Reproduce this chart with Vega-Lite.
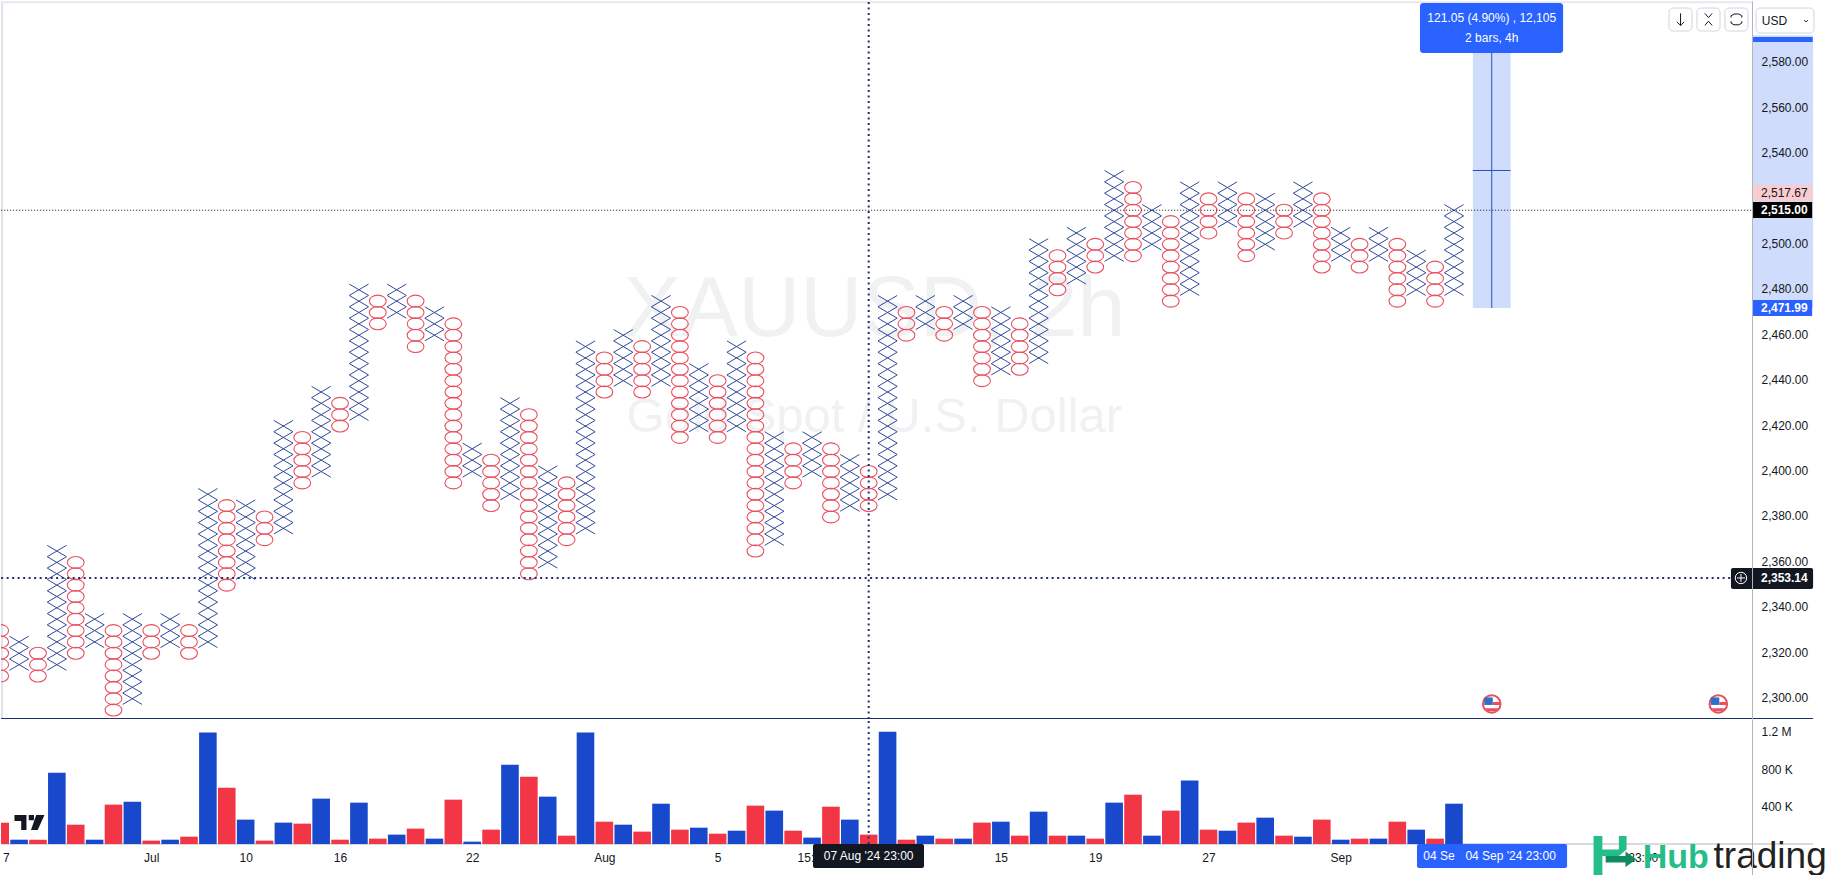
{"$schema":"https://vega.github.io/schema/vega-lite/v6.json","padding":0,"background":"white","bounds":"flush","config":{"font":"Liberation Sans","view":{"stroke":null}},"spacing":0,
"datasets":{
"xs":[{"c":1,"p":2315},{"c":1,"p":2320},{"c":1,"p":2325},
{"c":3,"p":2315},{"c":3,"p":2320},{"c":3,"p":2325},{"c":3,"p":2330},{"c":3,"p":2335},{"c":3,"p":2340},{"c":3,"p":2345},{"c":3,"p":2350},{"c":3,"p":2355},{"c":3,"p":2360},{"c":3,"p":2365},
{"c":5,"p":2325},{"c":5,"p":2330},{"c":5,"p":2335},
{"c":7,"p":2300},{"c":7,"p":2305},{"c":7,"p":2310},{"c":7,"p":2315},{"c":7,"p":2320},{"c":7,"p":2325},{"c":7,"p":2330},{"c":7,"p":2335},
{"c":9,"p":2325},{"c":9,"p":2330},{"c":9,"p":2335},
{"c":11,"p":2325},{"c":11,"p":2330},{"c":11,"p":2335},{"c":11,"p":2340},{"c":11,"p":2345},{"c":11,"p":2350},{"c":11,"p":2355},{"c":11,"p":2360},{"c":11,"p":2365},{"c":11,"p":2370},{"c":11,"p":2375},{"c":11,"p":2380},{"c":11,"p":2385},{"c":11,"p":2390},
{"c":13,"p":2355},{"c":13,"p":2360},{"c":13,"p":2365},{"c":13,"p":2370},{"c":13,"p":2375},{"c":13,"p":2380},{"c":13,"p":2385},
{"c":15,"p":2375},{"c":15,"p":2380},{"c":15,"p":2385},{"c":15,"p":2390},{"c":15,"p":2395},{"c":15,"p":2400},{"c":15,"p":2405},{"c":15,"p":2410},{"c":15,"p":2415},{"c":15,"p":2420},
{"c":17,"p":2400},{"c":17,"p":2405},{"c":17,"p":2410},{"c":17,"p":2415},{"c":17,"p":2420},{"c":17,"p":2425},{"c":17,"p":2430},{"c":17,"p":2435},
{"c":19,"p":2425},{"c":19,"p":2430},{"c":19,"p":2435},{"c":19,"p":2440},{"c":19,"p":2445},{"c":19,"p":2450},{"c":19,"p":2455},{"c":19,"p":2460},{"c":19,"p":2465},{"c":19,"p":2470},{"c":19,"p":2475},{"c":19,"p":2480},
{"c":21,"p":2470},{"c":21,"p":2475},{"c":21,"p":2480},
{"c":23,"p":2460},{"c":23,"p":2465},{"c":23,"p":2470},
{"c":25,"p":2400},{"c":25,"p":2405},{"c":25,"p":2410},
{"c":27,"p":2390},{"c":27,"p":2395},{"c":27,"p":2400},{"c":27,"p":2405},{"c":27,"p":2410},{"c":27,"p":2415},{"c":27,"p":2420},{"c":27,"p":2425},{"c":27,"p":2430},
{"c":29,"p":2360},{"c":29,"p":2365},{"c":29,"p":2370},{"c":29,"p":2375},{"c":29,"p":2380},{"c":29,"p":2385},{"c":29,"p":2390},{"c":29,"p":2395},{"c":29,"p":2400},
{"c":31,"p":2375},{"c":31,"p":2380},{"c":31,"p":2385},{"c":31,"p":2390},{"c":31,"p":2395},{"c":31,"p":2400},{"c":31,"p":2405},{"c":31,"p":2410},{"c":31,"p":2415},{"c":31,"p":2420},{"c":31,"p":2425},{"c":31,"p":2430},{"c":31,"p":2435},{"c":31,"p":2440},{"c":31,"p":2445},{"c":31,"p":2450},{"c":31,"p":2455},
{"c":33,"p":2440},{"c":33,"p":2445},{"c":33,"p":2450},{"c":33,"p":2455},{"c":33,"p":2460},
{"c":35,"p":2440},{"c":35,"p":2445},{"c":35,"p":2450},{"c":35,"p":2455},{"c":35,"p":2460},{"c":35,"p":2465},{"c":35,"p":2470},{"c":35,"p":2475},
{"c":37,"p":2420},{"c":37,"p":2425},{"c":37,"p":2430},{"c":37,"p":2435},{"c":37,"p":2440},{"c":37,"p":2445},
{"c":39,"p":2420},{"c":39,"p":2425},{"c":39,"p":2430},{"c":39,"p":2435},{"c":39,"p":2440},{"c":39,"p":2445},{"c":39,"p":2450},{"c":39,"p":2455},
{"c":41,"p":2370},{"c":41,"p":2375},{"c":41,"p":2380},{"c":41,"p":2385},{"c":41,"p":2390},{"c":41,"p":2395},{"c":41,"p":2400},{"c":41,"p":2405},{"c":41,"p":2410},{"c":41,"p":2415},
{"c":43,"p":2400},{"c":43,"p":2405},{"c":43,"p":2410},{"c":43,"p":2415},
{"c":45,"p":2385},{"c":45,"p":2390},{"c":45,"p":2395},{"c":45,"p":2400},{"c":45,"p":2405},
{"c":47,"p":2390},{"c":47,"p":2395},{"c":47,"p":2400},{"c":47,"p":2405},{"c":47,"p":2410},{"c":47,"p":2415},{"c":47,"p":2420},{"c":47,"p":2425},{"c":47,"p":2430},{"c":47,"p":2435},{"c":47,"p":2440},{"c":47,"p":2445},{"c":47,"p":2450},{"c":47,"p":2455},{"c":47,"p":2460},{"c":47,"p":2465},{"c":47,"p":2470},{"c":47,"p":2475},
{"c":49,"p":2465},{"c":49,"p":2470},{"c":49,"p":2475},
{"c":51,"p":2465},{"c":51,"p":2470},{"c":51,"p":2475},
{"c":53,"p":2445},{"c":53,"p":2450},{"c":53,"p":2455},{"c":53,"p":2460},{"c":53,"p":2465},{"c":53,"p":2470},
{"c":55,"p":2450},{"c":55,"p":2455},{"c":55,"p":2460},{"c":55,"p":2465},{"c":55,"p":2470},{"c":55,"p":2475},{"c":55,"p":2480},{"c":55,"p":2485},{"c":55,"p":2490},{"c":55,"p":2495},{"c":55,"p":2500},
{"c":57,"p":2485},{"c":57,"p":2490},{"c":57,"p":2495},{"c":57,"p":2500},{"c":57,"p":2505},
{"c":59,"p":2495},{"c":59,"p":2500},{"c":59,"p":2505},{"c":59,"p":2510},{"c":59,"p":2515},{"c":59,"p":2520},{"c":59,"p":2525},{"c":59,"p":2530},
{"c":61,"p":2500},{"c":61,"p":2505},{"c":61,"p":2510},{"c":61,"p":2515},
{"c":63,"p":2480},{"c":63,"p":2485},{"c":63,"p":2490},{"c":63,"p":2495},{"c":63,"p":2500},{"c":63,"p":2505},{"c":63,"p":2510},{"c":63,"p":2515},{"c":63,"p":2520},{"c":63,"p":2525},
{"c":65,"p":2510},{"c":65,"p":2515},{"c":65,"p":2520},{"c":65,"p":2525},
{"c":67,"p":2500},{"c":67,"p":2505},{"c":67,"p":2510},{"c":67,"p":2515},{"c":67,"p":2520},
{"c":69,"p":2510},{"c":69,"p":2515},{"c":69,"p":2520},{"c":69,"p":2525},
{"c":71,"p":2495},{"c":71,"p":2500},{"c":71,"p":2505},
{"c":73,"p":2495},{"c":73,"p":2500},{"c":73,"p":2505},
{"c":75,"p":2480},{"c":75,"p":2485},{"c":75,"p":2490},{"c":75,"p":2495},
{"c":77,"p":2480},{"c":77,"p":2485},{"c":77,"p":2490},{"c":77,"p":2495},{"c":77,"p":2500},{"c":77,"p":2505},{"c":77,"p":2510},{"c":77,"p":2515}],
"os":[{"c":0,"p":2310},{"c":0,"p":2315},{"c":0,"p":2320},{"c":0,"p":2325},{"c":0,"p":2330},
{"c":2,"p":2310},{"c":2,"p":2315},{"c":2,"p":2320},
{"c":4,"p":2320},{"c":4,"p":2325},{"c":4,"p":2330},{"c":4,"p":2335},{"c":4,"p":2340},{"c":4,"p":2345},{"c":4,"p":2350},{"c":4,"p":2355},{"c":4,"p":2360},
{"c":6,"p":2295},{"c":6,"p":2300},{"c":6,"p":2305},{"c":6,"p":2310},{"c":6,"p":2315},{"c":6,"p":2320},{"c":6,"p":2325},{"c":6,"p":2330},
{"c":8,"p":2320},{"c":8,"p":2325},{"c":8,"p":2330},
{"c":10,"p":2320},{"c":10,"p":2325},{"c":10,"p":2330},
{"c":12,"p":2350},{"c":12,"p":2355},{"c":12,"p":2360},{"c":12,"p":2365},{"c":12,"p":2370},{"c":12,"p":2375},{"c":12,"p":2380},{"c":12,"p":2385},
{"c":14,"p":2370},{"c":14,"p":2375},{"c":14,"p":2380},
{"c":16,"p":2395},{"c":16,"p":2400},{"c":16,"p":2405},{"c":16,"p":2410},{"c":16,"p":2415},
{"c":18,"p":2420},{"c":18,"p":2425},{"c":18,"p":2430},
{"c":20,"p":2465},{"c":20,"p":2470},{"c":20,"p":2475},
{"c":22,"p":2455},{"c":22,"p":2460},{"c":22,"p":2465},{"c":22,"p":2470},{"c":22,"p":2475},
{"c":24,"p":2395},{"c":24,"p":2400},{"c":24,"p":2405},{"c":24,"p":2410},{"c":24,"p":2415},{"c":24,"p":2420},{"c":24,"p":2425},{"c":24,"p":2430},{"c":24,"p":2435},{"c":24,"p":2440},{"c":24,"p":2445},{"c":24,"p":2450},{"c":24,"p":2455},{"c":24,"p":2460},{"c":24,"p":2465},
{"c":26,"p":2385},{"c":26,"p":2390},{"c":26,"p":2395},{"c":26,"p":2400},{"c":26,"p":2405},
{"c":28,"p":2355},{"c":28,"p":2360},{"c":28,"p":2365},{"c":28,"p":2370},{"c":28,"p":2375},{"c":28,"p":2380},{"c":28,"p":2385},{"c":28,"p":2390},{"c":28,"p":2395},{"c":28,"p":2400},{"c":28,"p":2405},{"c":28,"p":2410},{"c":28,"p":2415},{"c":28,"p":2420},{"c":28,"p":2425},
{"c":30,"p":2370},{"c":30,"p":2375},{"c":30,"p":2380},{"c":30,"p":2385},{"c":30,"p":2390},{"c":30,"p":2395},
{"c":32,"p":2435},{"c":32,"p":2440},{"c":32,"p":2445},{"c":32,"p":2450},
{"c":34,"p":2435},{"c":34,"p":2440},{"c":34,"p":2445},{"c":34,"p":2450},{"c":34,"p":2455},
{"c":36,"p":2415},{"c":36,"p":2420},{"c":36,"p":2425},{"c":36,"p":2430},{"c":36,"p":2435},{"c":36,"p":2440},{"c":36,"p":2445},{"c":36,"p":2450},{"c":36,"p":2455},{"c":36,"p":2460},{"c":36,"p":2465},{"c":36,"p":2470},
{"c":38,"p":2415},{"c":38,"p":2420},{"c":38,"p":2425},{"c":38,"p":2430},{"c":38,"p":2435},{"c":38,"p":2440},
{"c":40,"p":2365},{"c":40,"p":2370},{"c":40,"p":2375},{"c":40,"p":2380},{"c":40,"p":2385},{"c":40,"p":2390},{"c":40,"p":2395},{"c":40,"p":2400},{"c":40,"p":2405},{"c":40,"p":2410},{"c":40,"p":2415},{"c":40,"p":2420},{"c":40,"p":2425},{"c":40,"p":2430},{"c":40,"p":2435},{"c":40,"p":2440},{"c":40,"p":2445},{"c":40,"p":2450},
{"c":42,"p":2395},{"c":42,"p":2400},{"c":42,"p":2405},{"c":42,"p":2410},
{"c":44,"p":2380},{"c":44,"p":2385},{"c":44,"p":2390},{"c":44,"p":2395},{"c":44,"p":2400},{"c":44,"p":2405},{"c":44,"p":2410},
{"c":46,"p":2385},{"c":46,"p":2390},{"c":46,"p":2395},{"c":46,"p":2400},
{"c":48,"p":2460},{"c":48,"p":2465},{"c":48,"p":2470},
{"c":50,"p":2460},{"c":50,"p":2465},{"c":50,"p":2470},
{"c":52,"p":2440},{"c":52,"p":2445},{"c":52,"p":2450},{"c":52,"p":2455},{"c":52,"p":2460},{"c":52,"p":2465},{"c":52,"p":2470},
{"c":54,"p":2445},{"c":54,"p":2450},{"c":54,"p":2455},{"c":54,"p":2460},{"c":54,"p":2465},
{"c":56,"p":2480},{"c":56,"p":2485},{"c":56,"p":2490},{"c":56,"p":2495},
{"c":58,"p":2490},{"c":58,"p":2495},{"c":58,"p":2500},
{"c":60,"p":2495},{"c":60,"p":2500},{"c":60,"p":2505},{"c":60,"p":2510},{"c":60,"p":2515},{"c":60,"p":2520},{"c":60,"p":2525},
{"c":62,"p":2475},{"c":62,"p":2480},{"c":62,"p":2485},{"c":62,"p":2490},{"c":62,"p":2495},{"c":62,"p":2500},{"c":62,"p":2505},{"c":62,"p":2510},
{"c":64,"p":2505},{"c":64,"p":2510},{"c":64,"p":2515},{"c":64,"p":2520},
{"c":66,"p":2495},{"c":66,"p":2500},{"c":66,"p":2505},{"c":66,"p":2510},{"c":66,"p":2515},{"c":66,"p":2520},
{"c":68,"p":2505},{"c":68,"p":2510},{"c":68,"p":2515},
{"c":70,"p":2490},{"c":70,"p":2495},{"c":70,"p":2500},{"c":70,"p":2505},{"c":70,"p":2510},{"c":70,"p":2515},{"c":70,"p":2520},
{"c":72,"p":2490},{"c":72,"p":2495},{"c":72,"p":2500},
{"c":74,"p":2475},{"c":74,"p":2480},{"c":74,"p":2485},{"c":74,"p":2490},{"c":74,"p":2495},{"c":74,"p":2500},
{"c":76,"p":2475},{"c":76,"p":2480},{"c":76,"p":2485},{"c":76,"p":2490}],
"vol":[{"c":0,"v":227000,"t":"O"},{"c":1,"v":46000,"t":"X"},{"c":2,"v":46000,"t":"O"},{"c":3,"v":761000,"t":"X"},{"c":4,"v":206000,"t":"O"},{"c":5,"v":46000,"t":"X"},{"c":6,"v":420000,"t":"O"},{"c":7,"v":452000,"t":"X"},{"c":8,"v":36000,"t":"O"},{"c":9,"v":46000,"t":"X"},{"c":10,"v":78000,"t":"O"},{"c":11,"v":1188000,"t":"X"},{"c":12,"v":601000,"t":"O"},{"c":13,"v":260000,"t":"X"},{"c":14,"v":36000,"t":"O"},{"c":15,"v":228000,"t":"X"},{"c":16,"v":217000,"t":"O"},{"c":17,"v":484000,"t":"X"},{"c":18,"v":46000,"t":"O"},{"c":19,"v":441000,"t":"X"},{"c":20,"v":57000,"t":"O"},{"c":21,"v":100000,"t":"X"},{"c":22,"v":164000,"t":"O"},{"c":23,"v":57000,"t":"X"},{"c":24,"v":473000,"t":"O"},{"c":25,"v":25000,"t":"X"},{"c":26,"v":153000,"t":"O"},{"c":27,"v":846000,"t":"X"},{"c":28,"v":718000,"t":"O"},{"c":29,"v":505000,"t":"X"},{"c":30,"v":89000,"t":"O"},{"c":31,"v":1188000,"t":"X"},{"c":32,"v":238000,"t":"O"},{"c":33,"v":206000,"t":"X"},{"c":34,"v":132000,"t":"O"},{"c":35,"v":430000,"t":"X"},{"c":36,"v":153000,"t":"O"},{"c":37,"v":174000,"t":"X"},{"c":38,"v":110000,"t":"O"},{"c":39,"v":142000,"t":"X"},{"c":40,"v":409000,"t":"O"},{"c":41,"v":356000,"t":"X"},{"c":42,"v":142000,"t":"O"},{"c":43,"v":68000,"t":"X"},{"c":44,"v":398000,"t":"O"},{"c":45,"v":260000,"t":"X"},{"c":46,"v":100000,"t":"O"},{"c":47,"v":1198000,"t":"X"},{"c":48,"v":46000,"t":"O"},{"c":49,"v":89000,"t":"X"},{"c":50,"v":57000,"t":"O"},{"c":51,"v":57000,"t":"X"},{"c":52,"v":228000,"t":"O"},{"c":53,"v":238000,"t":"X"},{"c":54,"v":89000,"t":"O"},{"c":55,"v":345000,"t":"X"},{"c":56,"v":89000,"t":"O"},{"c":57,"v":89000,"t":"X"},{"c":58,"v":57000,"t":"O"},{"c":59,"v":441000,"t":"X"},{"c":60,"v":526000,"t":"O"},{"c":61,"v":89000,"t":"X"},{"c":62,"v":356000,"t":"O"},{"c":63,"v":676000,"t":"X"},{"c":64,"v":153000,"t":"O"},{"c":65,"v":142000,"t":"X"},{"c":66,"v":228000,"t":"O"},{"c":67,"v":281000,"t":"X"},{"c":68,"v":89000,"t":"O"},{"c":69,"v":78000,"t":"X"},{"c":70,"v":260000,"t":"O"},{"c":71,"v":46000,"t":"X"},{"c":72,"v":57000,"t":"O"},{"c":73,"v":57000,"t":"X"},{"c":74,"v":238000,"t":"O"},{"c":75,"v":153000,"t":"X"},{"c":76,"v":57000,"t":"O"},{"c":77,"v":430000,"t":"X"}]
},
"vconcat":[
{"width":1827,"height":718,
"encoding":{
"x":{"field":"c","type":"quantitative","scale":{"domain":[0.0424,96.81],"nice":false,"zero":false},"axis":null},
"y":{"field":"p","type":"quantitative","scale":{"domain":[2291.07,2607.1],"nice":false,"zero":false},"axis":{"title":null,"orient":"right","offset":-76,"grid":false,"ticks":false,"labelPadding":9,"format":",.2f","values":[2300,2320,2340,2360,2380,2400,2420,2440,2460,2480,2500,2540,2560,2580],"labelFontSize":12,"labelColor":"#131722","labelOffset":-1,"domainColor":"#b2b5be","zindex":1}}},
"layer":[
{"data":{"values":[{"c":46.3,"p":2471,"s":"XAUUSD, 2h"}]},"mark":{"type":"text","fontSize":86,"color":"#f0f1f3","baseline":"middle","align":"center"},"encoding":{"text":{"field":"s"}}},
{"data":{"values":[{"c":46.3,"p":2424,"s":"Gold Spot / U.S. Dollar"}]},"mark":{"type":"text","fontSize":49,"color":"#f0f1f3","baseline":"middle","align":"center"},"encoding":{"text":{"field":"s"}}},
{"data":{"values":[{"c":78,"c2":80,"p":2593,"p2":2471.99},{"c":92.84,"c2":96.02,"p":2592,"p2":2471.99}]},"mark":{"type":"rect","color":"#cfdcfb"},"encoding":{"x2":{"field":"c2"},"y2":{"field":"p2"}}},
{"data":{"values":[{"c":0.1,"p":2291.3,"p2":2607}]},"mark":{"type":"rule","color":"#e0e3eb","strokeWidth":2},"encoding":{"y2":{"field":"p2"}}},
{"data":{"values":[{"c":0.05,"c2":92.78,"p":2606.5}]},"mark":{"type":"rule","color":"#e6e8ee","strokeWidth":2},"encoding":{"x2":{"field":"c2"}}},
{"data":{"name":"os"},"mark":{"type":"point","clip":true,"shape":"M-1,0C-1,-0.39,-0.55,-0.71,0,-0.71C0.55,-0.71,1,-0.39,1,0C1,0.39,0.55,0.71,0,0.71C-0.55,0.71,-1,0.39,-1,0Z","size":282,"color":"#e8505f","strokeWidth":1.1,"opacity":1,"filled":false}},
{"data":{"name":"xs"},"mark":{"type":"point","clip":true,"shape":"M-1,-0.59L1,0.59M-1,0.59L1,-0.59","size":369,"color":"#2f4a9a","strokeWidth":1,"opacity":1,"filled":false}},
{"data":{"values":[{"c":0.05,"c2":92.78,"p":2515}]},"mark":{"type":"rule","color":"#131722","strokeWidth":1,"strokeDash":[1,2]},"encoding":{"x2":{"field":"c2"}}},
{"data":{"values":[{"c":0.05,"c2":92.78,"p":2353.14}]},"mark":{"type":"rule","color":"#1e2f6b","strokeWidth":2,"strokeDash":[2,3.5]},"encoding":{"x2":{"field":"c2"}}},
{"data":{"values":[{"c":46,"p":2291.07,"p2":2607.1}]},"mark":{"type":"rule","color":"#1e2f6b","strokeWidth":2,"strokeDash":[2,3.5]},"encoding":{"y2":{"field":"p2"}}},
{"data":{"values":[{"c":0.05,"c2":96.02,"p":2291.3}]},"mark":{"type":"rule","color":"#1e2f6b","strokeWidth":1.2},"encoding":{"x2":{"field":"c2"}}},
{"data":{"values":[{"c":79,"p":2471.99,"p2":2593}]},"mark":{"type":"rule","color":"#2a50c0","strokeWidth":1},"encoding":{"y2":{"field":"p2"}}},
{"data":{"values":[{"c":78,"c2":80,"p":2532.5}]},"mark":{"type":"rule","color":"#2a50c0","strokeWidth":1},"encoding":{"x2":{"field":"c2"}}},
{"data":{"values":[{"c":75.2,"c2":82.78,"p":2606.2,"p2":2584.2}]},"mark":{"type":"rect","color":"#2962ff","cornerRadius":3},"encoding":{"x2":{"field":"c2"},"y2":{"field":"p2"}}},
{"data":{"values":[{"c":79,"p":2599.6,"s":"121.05 (4.90%) , 12,105"},{"c":79,"p":2590.8,"s":"2 bars, 4h"}]},"mark":{"type":"text","color":"white","fontSize":12,"align":"center","baseline":"middle"},"encoding":{"text":{"field":"s"}}},
{"data":{"values":[{"c":92.84,"c2":96,"p":2591.3,"p2":2589.1},{"c":92.84,"c2":95.97,"p":2475.5,"p2":2468.4}]},"mark":{"type":"rect","color":"#2962ff"},"encoding":{"x2":{"field":"c2"},"y2":{"field":"p2"}}},
{"data":{"values":[{"c":92.84,"c2":95.97,"p":2526.1,"p2":2519.06}]},"mark":{"type":"rect","color":"#f9cdd0"},"encoding":{"x2":{"field":"c2"},"y2":{"field":"p2"}}},
{"data":{"values":[{"c":92.84,"c2":95.97,"p":2518.6,"p2":2511.6}]},"mark":{"type":"rect","color":"#000000"},"encoding":{"x2":{"field":"c2"},"y2":{"field":"p2"}}},
{"data":{"values":[{"c":91.67,"c2":96.02,"p":2357.5,"p2":2348.3}]},"mark":{"type":"rect","color":"#131722","cornerRadius":2},"encoding":{"x2":{"field":"c2"},"y2":{"field":"p2"}}},
{"data":{"values":[{"c":93.26,"p":2522.6,"s":"2,517.67"}]},"mark":{"type":"text","color":"#131722","fontSize":12,"align":"left","baseline":"middle"},"encoding":{"text":{"field":"s"}}},
{"data":{"values":[{"c":93.26,"p":2515,"s":"2,515.00"},{"c":93.26,"p":2471.99,"s":"2,471.99"},{"c":93.26,"p":2353.14,"s":"2,353.14"}]},"mark":{"type":"text","color":"white","fontSize":12,"fontWeight":"bold","align":"left","baseline":"middle"},"encoding":{"text":{"field":"s"}}},
{"data":{"values":[{"c":92.2,"p":2353.14}]},"mark":{"type":"point","shape":"circle","size":130,"color":"white","strokeWidth":1,"filled":false,"opacity":1}},
{"data":{"values":[{"c":92.2,"p":2353.14}]},"mark":{"type":"point","shape":"M-1,0L1,0M0,-1L0,1","size":64,"color":"white","strokeWidth":1,"filled":false,"opacity":1}},
{"data":{"values":[{"c":79,"p":2297.7},{"c":91,"p":2297.7}]},"mark":{"type":"point","shape":"circle","size":310,"fill":"white","stroke":"#e8505f","strokeWidth":2,"opacity":1,"filled":true}},
{"data":{"values":[{"c":79,"p":2297.7},{"c":91,"p":2297.7}]},"mark":{"type":"point","shape":"M-0.75,-0.65L0.1,-0.65L0.1,0.1L-0.75,0.1Z","size":400,"fill":"#2f6fc4","strokeWidth":0,"opacity":1,"filled":true}},
{"data":{"values":[{"c":79,"p":2297.7},{"c":91,"p":2297.7}]},"mark":{"type":"point","shape":"M0.1,-0.2L0.82,-0.2L0.82,0.1L0.1,0.1ZM-0.7,0.42L0.7,0.42L0.35,0.72L-0.35,0.72Z","size":400,"fill":"#e8505f","strokeWidth":0,"opacity":1,"filled":true}},
{"data":{"values":[{"c":88.39,"c2":89.61,"p":2604,"p2":2593.9},{"c":89.87,"c2":91.09,"p":2604,"p2":2593.9},{"c":91.35,"c2":92.57,"p":2604,"p2":2593.9},{"c":93,"c2":96.07,"p":2604,"p2":2593}]},"mark":{"type":"rect","fill":"white","stroke":"#d1d4dc","strokeWidth":1,"cornerRadius":4},"encoding":{"x2":{"field":"c2"},"y2":{"field":"p2"}}},
{"data":{"values":[{"c":89,"p":2599,"k":"a"},{"c":90.48,"p":2599,"k":"b"},{"c":91.96,"p":2599,"k":"c"},{"c":95.65,"p":2598.4,"k":"d"}]},"mark":{"type":"point","color":"#131722","strokeWidth":1,"filled":false,"opacity":1,"size":144},"encoding":{"shape":{"field":"k","type":"nominal","legend":null,"scale":{"domain":["a","b","c","d"],"range":["M0,-1L0,1M-0.6,0.4L0,1L0.6,0.4","M-0.6,-1L0,-0.3L0.6,-1M-0.6,1L0,0.3L0.6,1","M-0.4,-0.9L0.4,-0.9L0.9,-0.6L0.9,-0.3M0.9,0.3L0.9,0.6L0.4,0.9L-0.4,0.9L-0.9,0.6L-0.9,0.3M-0.9,-0.3L-0.9,-0.6L-0.4,-0.9","M-0.3,-0.1L0,0.2L0.3,-0.1"]}}}},
{"data":{"values":[{"c":93.3,"p":2598.5,"s":"USD"}]},"mark":{"type":"text","color":"#131722","fontSize":12,"align":"left","baseline":"middle"},"encoding":{"text":{"field":"s"}}}
]},
{"width":1827,"height":157,
"encoding":{
"x":{"field":"c","type":"quantitative","scale":{"domain":[0.0424,96.81],"nice":false,"zero":false,"padding":0},"axis":{"title":null,"orient":"bottom","offset":-32,"grid":false,"ticks":false,"domain":false,"labelPadding":8,"labelFontSize":12,"labelColor":"#131722","labelOverlap":false,"labelFlush":false,"values":[0.3,8,13,18,25,32,38,43,53,58,64,71,87],"labelExpr":"datum.value<1?'7':datum.value==8?'Jul':datum.value==13?'10':datum.value==18?'16':datum.value==25?'22':datum.value==32?'Aug':datum.value==38?'5':datum.value==43?'15:00':datum.value==53?'15':datum.value==58?'19':datum.value==64?'27':datum.value==71?'Sep':'23:00'"}},
"y":{"field":"v","type":"quantitative","scale":{"domain":[-341333,1333333],"nice":false,"zero":false},"axis":{"title":null,"orient":"right","offset":-76,"grid":false,"ticks":false,"labelPadding":9,"values":[400000,800000,1200000],"labelExpr":"datum.value>=1000000?'1.2 M':(datum.value/1000)+' K'","labelFontSize":12,"labelColor":"#131722","domainColor":"#b2b5be","zindex":1}}},
"layer":[
{"data":{"values":[{"c":0.05,"c2":96.02,"v":0}]},"mark":{"type":"rule","color":"#b2b5be","strokeWidth":1},"encoding":{"x2":{"field":"c2"}}},
{"data":{"name":"vol"},"mark":{"type":"bar","size":17.6,"clip":true},"encoding":{"y":{"field":"v","type":"quantitative"},"color":{"field":"t","type":"nominal","legend":null,"scale":{"domain":["X","O"],"range":["#1848cc","#f23645"]}}}},
{"data":{"values":[{"c":46,"v":0,"v2":1333333}]},"mark":{"type":"rule","color":"#1e2f6b","strokeWidth":2,"strokeDash":[2,3.5]},"encoding":{"y2":{"field":"v2"}}},
{"data":{"values":[{"c":43.05,"c2":48.93,"v":0,"v2":-256000}]},"mark":{"type":"rect","color":"#131722","cornerRadius":2},"encoding":{"x2":{"field":"c2"},"y2":{"field":"v2"}}},
{"data":{"values":[{"c":75.04,"c2":82.99,"v":0,"v2":-256000}]},"mark":{"type":"rect","color":"#2962ff","cornerRadius":2},"encoding":{"x2":{"field":"c2"},"y2":{"field":"v2"}}},
{"data":{"values":[{"c":46,"v":-128000,"s":"07 Aug '24  23:00"},{"c":80,"v":-128000,"s":"04 Sep '24  23:00"},{"c":76.2,"v":-128000,"s":"04 Se"}]},"mark":{"type":"text","color":"white","fontSize":12,"align":"center","baseline":"middle"},"encoding":{"text":{"field":"s"}}},
{"data":{"values":[{"c":1.55,"v":229000}]},"mark":{"type":"point","shape":"M-1,-0.5L-0.2,-0.5L-0.2,0.5L-0.55,0.5L-0.55,-0.1L-1,-0.1ZM-0.05,-0.5L0.3,-0.5L0.3,-0.15L-0.05,-0.15ZM0.45,-0.5L1,-0.5L0.55,0.5L0.1,0.5Z","size":900,"fill":"#131722","strokeWidth":0,"opacity":1,"filled":true}},
{"data":{"values":[{"c":85.5,"v":-128000}]},"mark":{"type":"point","shape":"M-0.95,-0.91L-0.55,-0.91L-0.55,-0.3L0.2,-0.3L0.2,-0.91L0.55,-0.91L0.55,-0.3L0.2,0L-0.55,0L-0.55,0.91L-0.95,0.91Z","size":1936,"fill":"#25bd8a","strokeWidth":0,"opacity":1,"filled":true}},
{"data":{"values":[{"c":85.5,"v":-128000}]},"mark":{"type":"point","shape":"M-0.4,0L0.5,0L0.5,-0.2L1,0.15L0.5,0.5L0.5,0.3L-0.4,0.3Z","size":1936,"fill":"#0f8a63","strokeWidth":0,"opacity":1,"filled":true}},
{"data":{"values":[{"c":87,"v":-256000,"s":"Hub"}]},"mark":{"type":"text","color":"#25bd8a","fontSize":34,"fontWeight":"bold","align":"left","baseline":"alphabetic"},"encoding":{"text":{"field":"s"}}},
{"data":{"values":[{"c":90.75,"v":-256000,"s":"trading"}]},"mark":{"type":"text","color":"#222222","fontSize":37,"align":"left","baseline":"alphabetic"},"encoding":{"text":{"field":"s"}}}
]}
]}
